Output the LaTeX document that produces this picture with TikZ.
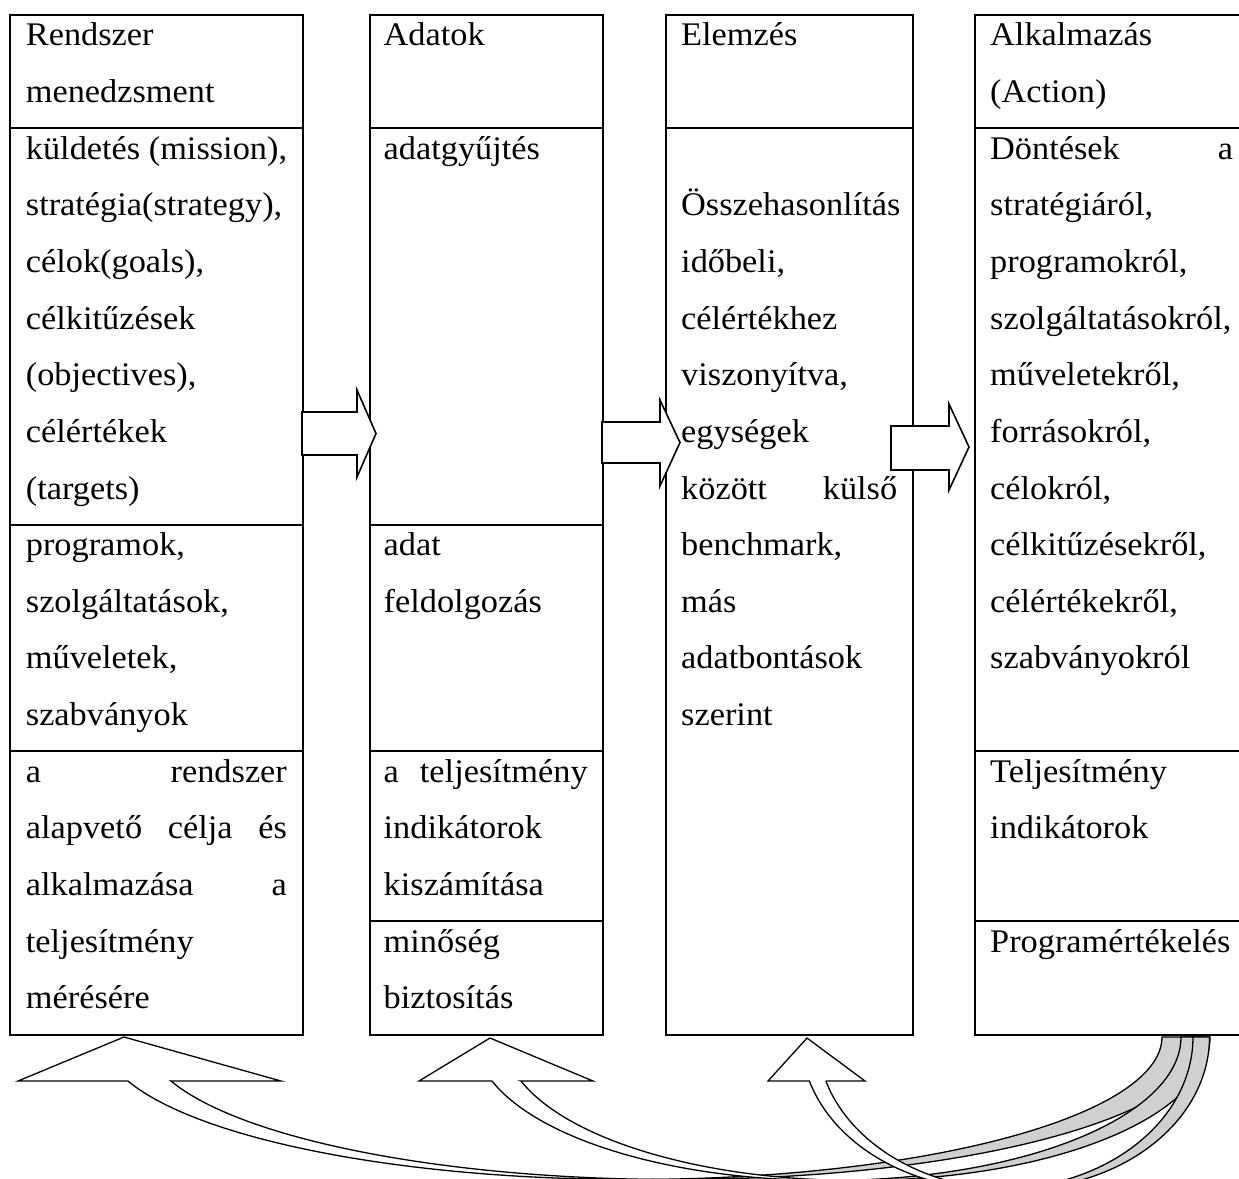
\documentclass[tikz,border=0pt]{standalone}
\usepackage{fontspec}
\setmainfont[FakeStretch=1.04]{Liberation Serif}
\definecolor{bandgrey}{HTML}{D0D0D0}
% baseline of text line k
\newcommand\bl[1]{45.8+56.65*#1}
\begin{document}
\begin{tikzpicture}[x=1pt,y=-1pt,
  colbox/.style={draw, line width=2pt, rectangle, inner sep=0pt, outer sep=0pt, anchor=north west},
  rule/.style={line width=2pt},
  txt/.style={anchor=base west, inner sep=0pt, font=\fontsize{33}{40}\selectfont},
  blockarrow/.style={draw, fill=white, line width=1.6pt, line join=miter},
  bandfront/.style={draw, fill=white, line width=1.3pt, line join=miter},
  bandback/.style={draw, fill=bandgrey, line width=1.3pt, line join=miter}]
\useasboundingbox (0,0) rectangle (1239,1178);
\clip (0,0) rectangle (1239,1178);

% the four columns
\node[colbox, minimum width=293pt, minimum height=1020pt] (c1) at (10,15) {};
\node[colbox, minimum width=233pt, minimum height=1020pt] (c2) at (370,15) {};
\node[colbox, minimum width=247pt, minimum height=1020pt] (c3) at (666,15) {};
\node[colbox, minimum width=285pt, minimum height=1020pt] (c4) at (975,15) {};

% row dividers
\foreach \y in {128,525,751} \draw[rule] (10,\y) -- (303,\y);
\foreach \y in {128,525,751,921} \draw[rule] (370,\y) -- (603,\y);
\draw[rule] (666,128) -- (913,128);
\foreach \y in {128,751,921} \draw[rule] (975,\y) -- (1260,\y);

% column 1
\foreach \k/\ttt in {0/Rendszer, 1/menedzsment, 2/{küldetés (mission),},
  3/{stratégia(strategy),}, 4/{célok(goals),}, 5/célkitűzések, 6/{(objectives),},
  7/célértékek, 8/(targets), 9/{programok,}, 10/{szolgáltatások,}, 11/{műveletek,},
  12/szabványok, 13/{\makebox[261pt][s]{a rendszer}},
  14/{\makebox[261pt][s]{alapvető célja és}}, 15/{\makebox[261pt][s]{alkalmazása a}},
  16/teljesítmény, 17/mérésére}
  \node[txt] (ta\k) at (25.7,{\bl{\k}}) {\ttt};

% column 2
\foreach \k/\ttt in {0/Adatok, 2/adatgyűjtés, 9/adat, 10/feldolgozás,
  13/{\makebox[204pt][s]{a teljesítmény}}, 14/indikátorok, 15/kiszámítása,
  16/minőség, 17/biztosítás}
  \node[txt] (tb\k) at (383.5,{\bl{\k}}) {\ttt};

% column 3
\foreach \k/\ttt in {0/Elemzés, 3/Összehasonlítás, 4/{időbeli,}, 5/célértékhez,
  6/{viszonyítva,}, 7/egységek, 8/{\makebox[216pt][s]{között külső}},
  9/{benchmark,}, 10/más, 11/adatbontások, 12/szerint}
  \node[txt] (tc\k) at (681,{\bl{\k}}) {\ttt};

% column 4
\foreach \k/\ttt in {0/Alkalmazás, 1/(Action), 2/{\makebox[243pt][s]{Döntések a}},
  3/{stratégiáról,}, 4/{programokról,}, 5/{szolgáltatásokról,}, 6/{műveletekről,},
  7/{forrásokról,}, 8/{célokról,}, 9/{célkitűzésekről,}, 10/{célértékekről,},
  11/szabványokról, 13/Teljesítmény, 14/indikátorok, 16/Programértékelés}
  \node[txt] (td\k) at (990,{\bl{\k}}) {\ttt};

% block arrows between the columns
\draw[blockarrow] (302,412) -- (357,412) -- (357,390) -- (376,433.5) -- (357,477)
  -- (357,455) -- (302,455) -- cycle;
\draw[blockarrow] (602,422) -- (660,422) -- (660,400) -- (680,442.5) -- (660,486)
  -- (660,463) -- (602,463) -- cycle;
\draw[blockarrow] (891,426) -- (949,426) -- (949,404) -- (969,447) -- (949,490)
  -- (949,470) -- (891,470) -- cycle;

% curved feedback arrows from the last column back to the others
% (each band lies between an ellipse arc and the same arc shifted by the shaft width)
% to column 1
\draw[bandback] plot[domain=90:0, samples=60] ({632+530*cos(\x)},{1037+142.5*sin(\x)})
  -- (1205,1037) -- plot[domain=0:90, samples=60] ({675+530*cos(\x)},{1037+142.5*sin(\x)}) -- cycle;
\draw[bandfront] (18,1081) -- (124,1037) -- (281,1081) -- (171,1081)
  -- plot[domain=17.98:90, samples=60] ({675-530*cos(\x)},{1037+142.5*sin(\x)})
  -- plot[domain=90:17.98, samples=60] ({632-530*cos(\x)},{1037+142.5*sin(\x)}) -- cycle;
% to column 2
\draw[bandback] plot[domain=90:0, samples=60] ({828+353*cos(\x)},{1037+143.5*sin(\x)})
  -- (1210,1037) -- plot[domain=0:90, samples=60] ({857+353*cos(\x)},{1037+143.5*sin(\x)}) -- cycle;
\draw[bandfront] (419,1081) -- (490,1038) -- (593,1081) -- (521,1081)
  -- plot[domain=17.86:90, samples=60] ({857-353*cos(\x)},{1037+143.5*sin(\x)})
  -- plot[domain=90:17.86, samples=60] ({828-353*cos(\x)},{1037+143.5*sin(\x)}) -- cycle;
% to column 3
\draw[bandback] plot[domain=90:0, samples=60] ({997+196*cos(\x)},{1037+152.5*sin(\x)})
  -- (1209.5,1037) -- plot[domain=0:90, samples=60] ({1013.5+196*cos(\x)},{1037+152.5*sin(\x)}) -- cycle;
\draw[bandfront] (768,1081) -- (807,1038) -- (865,1081) -- (825.8,1081)
  -- plot[domain=16.77:90, samples=60] ({1013.5-196*cos(\x)},{1037+152.5*sin(\x)})
  -- plot[domain=90:16.77, samples=60] ({997-196*cos(\x)},{1037+152.5*sin(\x)}) -- cycle;
\end{tikzpicture}
\end{document}
